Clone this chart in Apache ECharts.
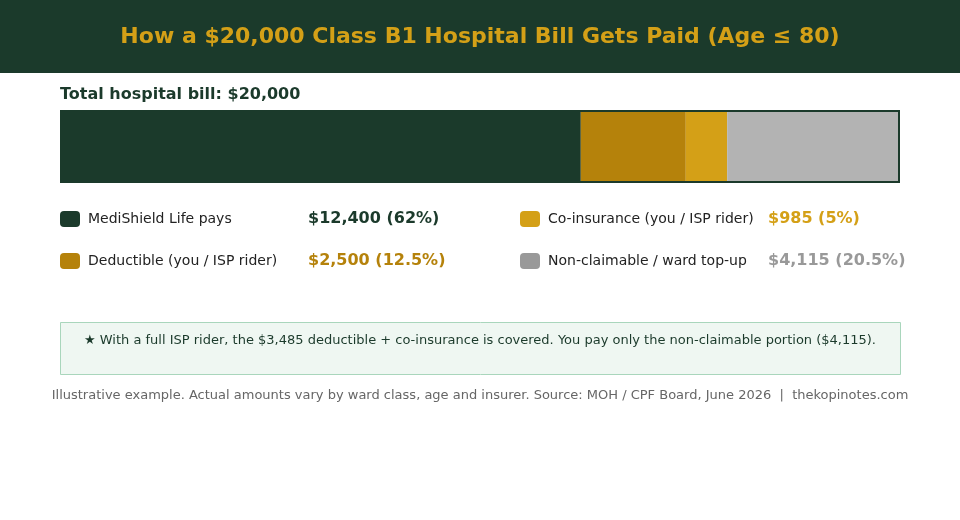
<!DOCTYPE html>
<html>
	<head>
		<meta charset="utf-8" />
		<title></title>
		<script src="https://cdn.jsdelivr.net/npm/echarts@6/dist/echarts.min.js" type="text/javascript"></script>
		<style>
			html, body { margin: 0; padding: 0; background: #fff; }
		</style>
	</head>
	<body>
		<div id="main" style="width: 960px; height: 520px;"></div>
		<script>
			var totalBill = 20000;
			var partNames = ['MediShield Life pays', 'Deductible (you / ISP rider)', 'Co-insurance (you / ISP rider)', 'Non-claimable / ward top-up'];
			var partValues = [12400, 2500, 985, 4115];
			var partPercents = ['62%', '12.5%', '5%', '20.5%'];
			var barColors = ['#1b3a2b', '#b5820b', '#d4a017', '#b3b3b3'];
			var swatchColors = ['#1b3a2b', '#b5820b', '#d4a017', '#999999'];
			var valueColors = ['#1b3a2b', '#b5820b', '#d4a017', '#999999'];

			var font = 'DejaVu Sans';
			var init = echarts.init(document.getElementById('main'));

			function money(v) {
				return '$' + v.toLocaleString('en-US');
			}

			var series = partNames.map(function(name, i) {
				return {
					name: name,
					type: 'bar',
					stack: 'bill',
					barWidth: '100%',
					silent: true,
					itemStyle: { color: barColors[i] },
					data: [partValues[i]]
				};
			});

			// name column is fixed width so the values line up
			var rich = { n: { fontFamily: font, fontSize: 14, color: '#222', width: 220, padding: [0, 0, 0, 3] } };
			valueColors.forEach(function(c, i) {
				rich['v' + i] = { fontFamily: font, fontSize: 16, fontWeight: 'bold', color: c };
			});

			function legendBlock(left, idx) {
				return {
					left: left,
					top: 209,
					padding: 0,
					orient: 'vertical',
					itemWidth: 20,
					itemHeight: 16,
					itemGap: 22,
					icon: 'roundRect',
					selectedMode: false,
					data: idx.map(function(i) {
						return { name: partNames[i], itemStyle: { color: swatchColors[i] } };
					}),
					textStyle: { fontFamily: font, rich: rich, lineHeight: 20 },
					formatter: function(name) {
						var i = partNames.indexOf(name);
						return '{n|' + name + '}{v' + i + '|' + money(partValues[i]) + ' (' + partPercents[i] + ')}';
					}
				};
			}

			option = {
				backgroundColor: '#ffffff',
				animation: false,
				title: [{
					text: 'How a ' + money(totalBill) + ' Class B1 Hospital Bill Gets Paid (Age \u2264 80)',
					left: 'center',
					top: 26,
					padding: 0,
					textStyle: { fontFamily: font, fontSize: 22, fontWeight: 'bold', color: '#d4a017' }
				}, {
					text: 'Total hospital bill: ' + money(totalBill),
					left: 60,
					top: 87,
					padding: 0,
					textStyle: { fontFamily: font, fontSize: 16, fontWeight: 'bold', color: '#1b3a2b' }
				}, {
					text: '\u2605 With a full ISP rider, the ' + money(partValues[1] + partValues[2]) + ' deductible + co-insurance is covered. You pay only the non-claimable portion (' + money(partValues[3]) + ').',
					left: 'center',
					top: 334,
					padding: 0,
					textStyle: { fontFamily: font, fontSize: 13, fontWeight: 'normal', color: '#1b3a2b' }
				}, {
					text: 'Illustrative example. Actual amounts vary by ward class, age and insurer. Source: MOH / CPF Board, June 2026  |  thekopinotes.com',
					left: 'center',
					top: 389,
					padding: 0,
					textStyle: { fontFamily: font, fontSize: 13, fontWeight: 'normal', color: '#666666' }
				}],
				graphic: [{
					type: 'rect',
					z: -10,
					shape: { x: 0, y: 0, width: 960, height: 73 },
					style: { fill: '#1b3a2b' }
				}, {
					type: 'rect',
					z: -10,
					shape: { x: 60.5, y: 322.5, width: 840, height: 52 },
					style: { fill: '#eff7f2', stroke: '#a9d6bc', lineWidth: 1 }
				}, {
					type: 'rect',
					z: 100,
					shape: { x: 61, y: 111, width: 838, height: 71 },
					style: { fill: 'none', stroke: '#1b3a2b', lineWidth: 2 }
				}],
				grid: { left: 60, top: 110, width: 840, height: 73 },
				xAxis: { type: 'value', min: 0, max: totalBill, show: false },
				yAxis: { type: 'category', data: ['bill'], show: false },
				legend: [legendBlock(60, [0, 1]), legendBlock(520, [2, 3])],
				series: series
			};
			init.setOption(option);
		</script>
	</body>
</html>
